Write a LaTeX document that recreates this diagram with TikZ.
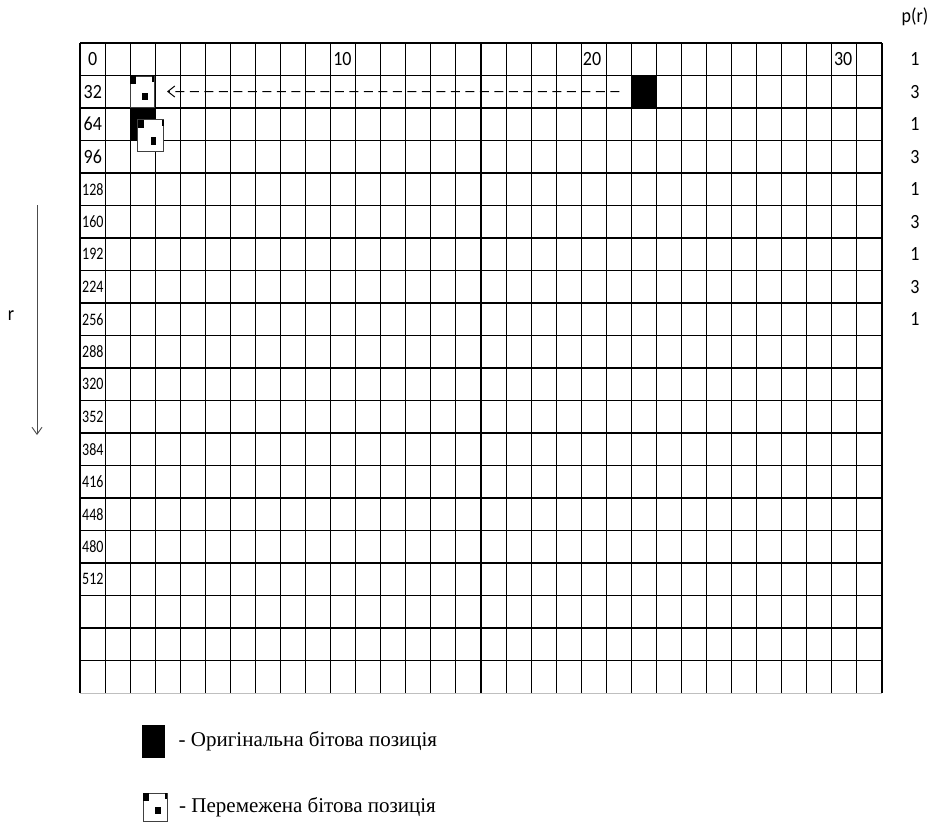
\documentclass[tikz,border=0pt]{standalone}
\usepackage{fontspec}
\setmainfont{Liberation Serif}
\newfontfamily\calibfont{Carlito}
\usetikzlibrary{arrows.meta,positioning}

\newcommand{\tallnum}[1]{\scalebox{1}[1.12]{#1}}
\newcommand{\tallsmall}[1]{\scalebox{1}[1.25]{#1}}
\newcommand{\cellw}{25.0625}
\newcommand{\rowh}{32.5}

% small black marks of an interleaved-bit icon
\newcommand{\interbits}[1]{%
  \fill (#1.north west) rectangle ++(6,8);
  \fill (#1.north east) rectangle ++(-2,6);
  \fill (#1.south) ++(0,-7) rectangle ++(5.5,-7.5);
}

\tikzset{
  vline/.style={black, line width=1.1pt},
  hline/.style={black, line width=1.7pt},
  numlbl/.style={font=\calibfont\fontsize{18}{20}\selectfont, inner sep=0pt},
  smalllbl/.style={font=\calibfont\fontsize{14}{16}\selectfont, inner sep=0pt},
  origbit/.style={fill=black, draw=none, inner sep=0pt, outer sep=0pt},
  interbit/.style={fill=white, draw=black!75, line width=1pt, inner sep=0pt, outer sep=0pt},
  legendtxt/.style={font=\fontsize{21}{24}\selectfont, inner sep=0pt, anchor=west},
}

\begin{document}
\begin{tikzpicture}[x=1pt, y=-1pt]
  \useasboundingbox (0,0) rectangle (937,825);
  % grid
  \foreach \i in {0,...,32}
    \draw[vline] ({80+\i*\cellw},43) -- ({80+\i*\cellw},693);
  \foreach \j in {0,...,19}
    \draw[hline] (80,{43+\j*\rowh}) -- (882,{43+\j*\rowh});
  \draw[line width=1.8pt] (80,43) -- (80,693);
  \draw[line width=1.8pt] (882,43) -- (882,693);
  \draw[gray!50, line width=1pt] (80,693) -- (882,693);

  % column numbers
  \foreach \c/\dx in {0/8, 10/2.5, 20/1.5, 30/2}
    \node[numlbl, anchor=west] (col\c) at ({80+\c*\cellw+\dx},{43+0.5*\rowh}) {\tallnum{\c}};
  % row numbers
  \foreach \v [count=\k] in {32,64,96}
    \node[numlbl, anchor=west] (row\v) at (83.5,{43+(\k+0.5)*\rowh}) {\tallnum{\v}};
  \foreach \v [count=\k from 4] in {128,160,...,512}
    \node[smalllbl, anchor=west] (row\v) at (82,{43+(\k+0.5)*\rowh}) {\tallsmall{\v}};

  % p(r)
  \node[numlbl] (ptitle) at (915,17) {\tallnum{p(r)}};
  \foreach \p [count=\k from 0] in {1,3,1,3,1,3,1,3,1}
    \node[numlbl] (p\k) at (915,{43+(\k+0.5)*\rowh}) {\tallnum{\p}};

  % r axis
  \coordinate (rtop) at (37,205);
  \coordinate (rbot) at (37,435);
  \draw[black!70, line width=0.9pt, -{Straight Barb[length=7pt,width=10pt]}] (rtop) -- (rbot);
  \node[numlbl] (rlbl) at (11,316) {\tallnum{r}};

  % original and interleaved bits
  \node[origbit, minimum width=\cellw pt, minimum height=\rowh pt, anchor=north west]
    (orig) at ({80+22*\cellw},{43+\rowh}) {};
  \node[origbit, minimum width=\cellw pt, minimum height=\rowh pt, anchor=north west]
    (orig2) at ({80+2*\cellw},{43+2*\rowh}) {};
  \node[interbit, minimum width=24pt, minimum height=31pt, anchor=north west] (inter1) at (130,76) {};
  \interbits{inter1}
  \node[interbit, minimum width=26pt, minimum height=32pt, anchor=north west] (inter2) at (137.5,119.5) {};
  \interbits{inter2}
  \draw[dash pattern=on 9pt off 5.5pt, line width=1pt, -{Straight Barb[length=7pt,width=11pt]},
    shorten <=12pt, shorten >=13pt] (orig) -- (inter1);

  % legend
  \node[origbit, minimum width=23pt, minimum height=33pt, anchor=north west] (legorig) at (141.5,725) {};
  \node[legendtxt, right=14pt of legorig] (legorigtxt) {- Оригінальна бітова позиція};
  \node[interbit, minimum width=24pt, minimum height=28pt, anchor=north west] (leginter) at (143,793) {};
  \interbits{leginter}
  \node[legendtxt, right=12pt of leginter] (leginterttxt) {- Перемежена бітова позиція};
\end{tikzpicture}
\end{document}
